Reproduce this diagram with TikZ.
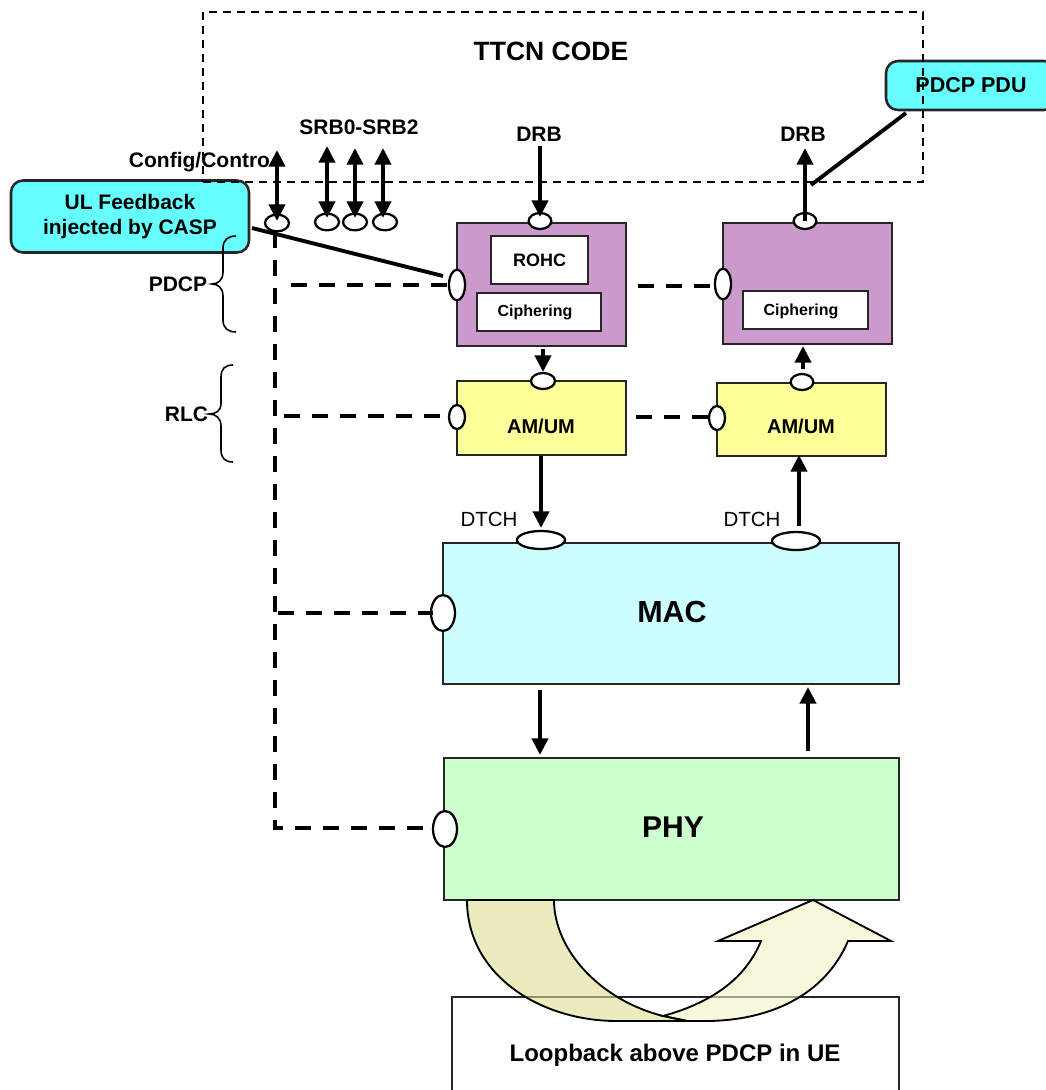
\documentclass[tikz,border=0pt]{standalone}
\usepackage{fontspec}
\setmainfont{Liberation Sans}
\usetikzlibrary{arrows.meta,shapes.geometric}
\newcommand{\pxf}[1]{\fontsize{\dimexpr#1pt*3/4\relax}{\dimexpr#1pt*9/10\relax}\selectfont}
\definecolor{cyanbox}{HTML}{66FFFF}
\definecolor{purplebox}{HTML}{CC99CC}
\definecolor{yellowbox}{HTML}{FFFF99}
\definecolor{macbox}{HTML}{CCFFFF}
\definecolor{phybox}{HTML}{CCFFCC}
\tikzset{
  x=0.75pt,y=-0.75pt,
  boxline/.style={draw=black!85,line width=1.9pt,inner sep=0pt,outer sep=0pt},
  layerbox/.style={boxline,font=\bfseries},
  callout/.style={boxline,rounded corners=9pt,fill=cyanbox,align=center,font=\bfseries\pxf{21}},
  port/.style={draw=black,line width=1.7pt,fill=white,ellipse,inner sep=0pt,outer sep=0pt},
  lab/.style={inner sep=0pt,font=\bfseries\pxf{21}},
  flow/.style={line width=3pt,-{Triangle[length=12.5pt,width=12pt]}},
  bothflow/.style={line width=3pt,{Triangle[length=12.5pt,width=12pt]}-{Triangle[length=12.5pt,width=12pt]}},
  ctrl/.style={line width=2.7pt,dash pattern=on 12pt off 9pt},
  note/.style={line width=2.9pt},
  brace/.style={line width=1.2pt,draw=black},
  loopline/.style={draw=black,line width=1.4pt,line join=miter,fill opacity=.6}
}
\begin{document}
\begin{tikzpicture}
\useasboundingbox (0,0) rectangle (1046,1090);
\clip (0,0) rectangle (1046,1090);
\fill[white] (0,0) rectangle (1046,1090);

% callouts
\node[callout,minimum width=178.5pt,minimum height=54pt] (ul) at (130,216.5) {UL Feedback\\injected by CASP};
\node[callout,minimum width=127.5pt,minimum height=36.75pt,font=\bfseries\pxf{21.5}] (pdu) at (971,85.5) {PDCP PDU};

% test-code boundary
\node[draw=black,line width=1pt,dash pattern=on 6pt off 4.5pt,minimum width=540pt,minimum height=127.5pt,inner sep=0pt] (ttcn) at (563,97) {};
\node[lab,font=\bfseries\pxf{26.5}] (ttcnlab) at (551,51) {TTCN CODE};

% layers
\node[layerbox,fill=purplebox,minimum width=126.75pt,minimum height=92.25pt] (pdcpL) at (541.5,284.5) {};
\node[layerbox,fill=purplebox,minimum width=126.75pt,minimum height=90.75pt] (pdcpR) at (807.5,283.5) {};
\node[layerbox,fill=white,minimum width=72.75pt,minimum height=36pt,font=\bfseries\pxf{18}] (rohc) at (539.5,260) {ROHC};
\node[layerbox,fill=white,minimum width=93pt,minimum height=28.5pt] (cipL) at (539,312) {};
\node[lab,font=\bfseries\pxf{16}] (cipLt) at (535,312) {Ciphering};
\node[layerbox,fill=white,minimum width=93.75pt,minimum height=28.5pt] (cipR) at (805.5,310) {};
\node[lab,font=\bfseries\pxf{16}] (cipRt) at (801,311) {Ciphering};
\node[layerbox,fill=yellowbox,minimum width=126.75pt,minimum height=55.5pt] (rlcL) at (541.5,418) {};
\node[lab,font=\bfseries\pxf{20}] (rlcLt) at (541,426) {AM/UM};
\node[layerbox,fill=yellowbox,minimum width=126.75pt,minimum height=54.75pt] (rlcR) at (801.5,419.5) {};
\node[lab,font=\bfseries\pxf{20}] (rlcRt) at (801,426) {AM/UM};
\node[layerbox,fill=macbox,minimum width=342pt,minimum height=105.75pt] (mac) at (671,613.5) {};
\node[lab,font=\bfseries\pxf{30.5}] (mact) at (672,611.5) {MAC};
\node[layerbox,fill=phybox,minimum width=341.25pt,minimum height=106.5pt] (phy) at (671.5,829) {};
\node[lab,font=\bfseries\pxf{30}] (phyt) at (673,827) {PHY};

% loopback
\node[boxline,fill=white,minimum width=335.25pt,minimum height=97.5pt] (loop) at (675.5,1062) {};
\node[lab,font=\bfseries\pxf{24}] (loopt) at (675,1055) {Loopback above PDCP in UE};
\path[loopline,fill={rgb,255:red,242;green,242;blue,197}]
  (813,900) -- (891,941) -- (848,941)
  .. controls (825,995) and (770,1021) .. (705,1021) -- (687,1021) -- (663,1016)
  .. controls (710,1003) and (745,980) .. (761,941) -- (718,941) -- cycle;
\path[loopline,fill={rgb,255:red,222;green,222;blue,145}]
  (467,900) .. controls (467,975) and (540,1021) .. (617,1021) -- (687,1021) -- (663,1016)
  .. controls (600,1000) and (554,950) .. (554,900) -- cycle;

% ports
\node[port,minimum width=18pt,minimum height=12.5pt] (cfgp) at (277,223) {};
\node[port,minimum width=18pt,minimum height=12.5pt] (s1) at (327,222) {};
\node[port,minimum width=18pt,minimum height=12.5pt] (s2) at (355,222) {};
\node[port,minimum width=18pt,minimum height=12.5pt] (s3) at (385,222) {};
\node[port,minimum width=17pt,minimum height=12pt] (drbLp) at (540,221) {};
\node[port,minimum width=17pt,minimum height=12pt] (drbRp) at (805,221) {};
\node[port,minimum width=12pt,minimum height=23pt] (pdcpLp) at (457,285) {};
\node[port,minimum width=12pt,minimum height=23pt] (pdcpRp) at (723,284) {};
\node[port,minimum width=18pt,minimum height=12pt] (rlcLtop) at (543,381) {};
\node[port,minimum width=17pt,minimum height=12pt] (rlcRtop) at (802,382) {};
\node[port,minimum width=12pt,minimum height=18pt] (rlcLp) at (457,417) {};
\node[port,minimum width=12pt,minimum height=18pt] (rlcRp) at (717,418) {};
\node[port,minimum width=36pt,minimum height=13.5pt] (dtL) at (541,540) {};
\node[port,minimum width=36pt,minimum height=13.5pt] (dtR) at (796,541) {};
\node[port,minimum width=18pt,minimum height=27pt] (macp) at (443,613) {};
\node[port,minimum width=18pt,minimum height=27pt] (phyp) at (445,829) {};

% labels
\node[lab] (srb) at (359,127) {SRB0-SRB2};
\node[lab] (cfgt) at (199.5,162.5) {Config/Contro};
\node[lab] (drbL) at (539,134) {DRB};
\node[lab] (drbR) at (803,134) {DRB};
\node[lab] (pdcpt) at (178,284) {PDCP};
\node[lab] (rlct) at (186.5,414) {RLC};
\node[inner sep=0pt,font=\pxf{20.5}] (dt1) at (489,519) {DTCH};
\node[inner sep=0pt,font=\pxf{20.5}] (dt2) at (752,519) {DTCH};

% free connector ends
\coordinate (a1) at (277,150);
\coordinate (a2) at (327,146);
\coordinate (a3) at (355,148);
\coordinate (a4) at (383,148);
\coordinate (a5) at (540,146);
\coordinate (a6) at (805,148);
\coordinate (b1) at (543,349);
\coordinate (b2) at (543,372);
\coordinate (b3) at (803,369);
\coordinate (b4) at (803,346);
\coordinate (c1) at (541,456);
\coordinate (c2) at (541,528);
\coordinate (c3) at (799,526);
\coordinate (c4) at (799,455);
\coordinate (d1) at (540,690);
\coordinate (d2) at (540,755);
\coordinate (d3) at (808,751);
\coordinate (d4) at (808,687);
\coordinate (p1) at (277,221);
\coordinate (p2) at (327,218);
\coordinate (p3) at (355,218);
\coordinate (p4) at (383,218);
\coordinate (p5) at (540,217);

% data arrows
\draw[bothflow] (a1) -- (p1);
\draw[bothflow] (a2) -- (p2);
\draw[bothflow] (a3) -- (p3);
\draw[bothflow] (a4) -- (p4);
\draw[flow] (a5) -- (p5);
\draw[flow] (drbRp.center) -- (a6);
\draw[flow] (b1) -- (b2);
\draw[flow] (b3) -- (b4);
\draw[flow] (c1) -- (c2);
\draw[flow] (c3) -- (c4);
\draw[flow] (d1) -- (d2);
\draw[flow] (d3) -- (d4);

% control bus
\coordinate (vtop) at (275,232);
\coordinate (vbot) at (275,828);
\coordinate (h1) at (291,285);
\coordinate (h2) at (284,416);
\coordinate (h3) at (278,613);
\coordinate (h4) at (638,286);
\coordinate (h5) at (636,417);
\coordinate (e1) at (447,285);
\coordinate (e2) at (449,416);
\coordinate (e3) at (433,613);
\coordinate (e4) at (715,286);
\coordinate (e5) at (709,417);
\coordinate (e6) at (433,828);
\draw[ctrl] (vtop) -- (vbot) -- (e6);
\draw[ctrl] (h1) -- (e1);
\draw[ctrl] (h2) -- (e2);
\draw[ctrl] (h3) -- (e3);
\draw[ctrl] (h4) -- (e4);
\draw[ctrl] (h5) -- (e5);

% callout leaders
\coordinate (n1) at (252,228);
\coordinate (n2) at (443,276);
\coordinate (n3) at (906,113);
\coordinate (n4) at (811,185);
\draw[note] (n1) -- (n2);
\draw[note] (n3) -- (n4);

% braces
\draw[brace] (236,236) .. controls (228,236) and (223,240) .. (223,248) -- (223,272) .. controls (223,280) and (218,284) .. (212,284) .. controls (218,284) and (223,288) .. (223,296) -- (223,320) .. controls (223,328) and (228,332) .. (236,332);
\draw[brace] (233,365) .. controls (225,365) and (221,369) .. (221,377) -- (221,403) .. controls (221,411) and (216,414) .. (209,414) .. controls (216,414) and (221,418) .. (221,426) -- (221,450) .. controls (221,458) and (225,462) .. (233,462);
\end{tikzpicture}
\end{document}
